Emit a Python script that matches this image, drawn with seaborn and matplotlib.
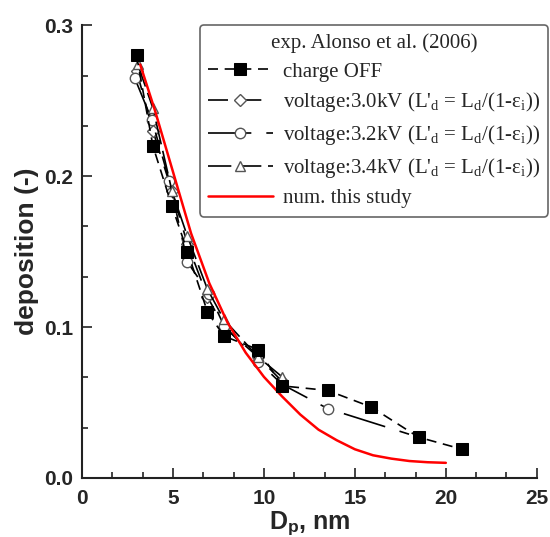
import numpy as np
import pandas as pd
import matplotlib
matplotlib.use("Agg")
import matplotlib.pyplot as plt
import seaborn as sns
from matplotlib.ticker import MultipleLocator

sns.set_theme(style="ticks")
plt.rcParams['font.family'] = ['Liberation Sans', 'DejaVu Sans']
plt.rcParams['mathtext.fontset'] = 'custom'
plt.rcParams['mathtext.rm'] = 'Liberation Serif'
plt.rcParams['mathtext.it'] = 'Liberation Serif:italic'
plt.rcParams['mathtext.bf'] = 'Liberation Sans:bold'

# ---- data ----
off_x = [3.0, 3.9, 4.95, 5.8, 6.9, 7.8, 9.7, 11.0, 13.5, 15.9, 18.5, 20.9]
off_y = [0.280, 0.220, 0.180, 0.150, 0.110, 0.094, 0.085, 0.061, 0.058, 0.047, 0.027, 0.019]

v30_x = [3.0, 3.9, 4.95, 5.8, 6.9, 7.8, 9.7, 11.0]
v30_y = [0.270, 0.230, 0.190, 0.155, 0.120, 0.100, 0.080, 0.064]

v32_x = [2.9, 3.85, 4.8, 5.8, 7.0, 7.8, 9.7, 11.0, 13.5, 18.5]
v32_y = [0.265, 0.237, 0.197, 0.143, 0.122, 0.101, 0.077, 0.062, 0.046, 0.027]

v34_x = [3.07, 3.9, 4.95, 5.8, 6.9, 7.8, 9.7, 11.0]
v34_y = [0.274, 0.245, 0.190, 0.160, 0.125, 0.105, 0.080, 0.067]

num_x = [3.2, 4, 5, 6, 7, 8, 9, 10, 11, 12, 13, 14, 15, 16, 17, 18, 19, 20]
num_y = [0.274, 0.244, 0.203, 0.162, 0.129, 0.103, 0.083, 0.067, 0.054, 0.042, 0.032, 0.025,
         0.019, 0.015, 0.0128, 0.0112, 0.0104, 0.0100]

labels = ["charge OFF",
          r"voltage:3.0kV (L'$_\mathrm{d}$ = L$_\mathrm{d}$/(1-ε$_\mathrm{i}$))",
          r"voltage:3.2kV (L'$_\mathrm{d}$ = L$_\mathrm{d}$/(1-ε$_\mathrm{i}$))",
          r"voltage:3.4kV (L'$_\mathrm{d}$ = L$_\mathrm{d}$/(1-ε$_\mathrm{i}$))",
          "num. this study"]

fig = plt.figure(figsize=(5.5, 5.37), dpi=100)
ax = fig.add_axes([0.149, 0.110, 0.827, 0.843])

mk = dict(markeredgecolor='#555555', markerfacecolor='white', markeredgewidth=1.0)
sns.lineplot(x=off_x, y=off_y, ax=ax, color='black', lw=1.2, linestyle=(0, (6, 4)),
             marker='s', markersize=8, markerfacecolor='black', markeredgecolor='black',
             label=labels[0], sort=False, zorder=5)
sns.lineplot(x=v30_x, y=v30_y, ax=ax, color='black', lw=1.2, linestyle=(0, (12, 8)),
             marker='D', markersize=6, label=labels[1], sort=False, **mk)
sns.lineplot(x=v32_x, y=v32_y, ax=ax, color='black', lw=1.2, linestyle=(0, (26, 9, 6, 9)),
             marker='o', markersize=7.5, label=labels[2], sort=False, **mk)
sns.lineplot(x=v34_x, y=v34_y, ax=ax, color='black', lw=1.2, linestyle=(0, (14, 4)),
             marker='^', markersize=7.5, label=labels[3], sort=False, **mk)
sns.lineplot(x=num_x, y=num_y, ax=ax, color='red', lw=1.8, label=labels[4], sort=False)

ax.set_xlim(0, 25)
ax.set_ylim(0, 0.3)
ax.xaxis.set_major_locator(MultipleLocator(5))
ax.xaxis.set_minor_locator(MultipleLocator(5 / 3))
ax.yaxis.set_major_locator(MultipleLocator(0.1))
ax.yaxis.set_minor_locator(MultipleLocator(0.1 / 3))
ax.tick_params(which='both', direction='in', width=1.2, color='#222222')
ax.tick_params(which='major', length=7, labelsize=15)
ax.tick_params(which='minor', length=4)
ax.tick_params(axis='x', which='major', pad=8)
ax.tick_params(axis='y', which='major', pad=6)
for t in ax.get_xticklabels() + ax.get_yticklabels():
    t.set_fontweight('bold')
sns.despine(ax=ax)
for s in ['left', 'bottom']:
    ax.spines[s].set_linewidth(1.5)
    ax.spines[s].set_color('#222222')
ax.set_ylabel('deposition (-)', fontsize=19, fontweight='bold', labelpad=4)
ax.set_xlabel(r'D$_\mathbf{p}$, nm', fontsize=18, fontweight='bold', labelpad=1)

leg = ax.legend(loc='upper right', bbox_to_anchor=(0.997, 0.953), bbox_transform=fig.transFigure,
                title='exp. Alonso et al. (2006)', frameon=True, fancybox=True,
                prop={'family': 'Liberation Serif', 'size': 15}, handlelength=3.1,
                numpoints=1, borderpad=0.4, labelspacing=0.42, handletextpad=0.5,
                borderaxespad=0, framealpha=1)
leg.get_title().set_fontfamily('Liberation Serif')
leg.get_title().set_fontsize(15)
leg.get_frame().set_edgecolor('#666666')
leg.get_frame().set_linewidth(1.2)

fig.savefig('out.png', dpi=100)
